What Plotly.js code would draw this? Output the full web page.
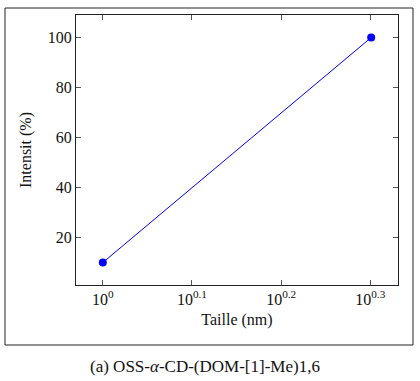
<!DOCTYPE html>
<html><head><meta charset="utf-8">
<script src="https://cdn.plot.ly/plotly-3.0.1.min.js"></script>
</head><body style="margin:0;background:#fff"><div id="c"></div>
<script>
const sizes = [1, 2];
const intensities = [10, 100];
const xTickVals = [1, Math.pow(10,0.1), Math.pow(10,0.2), Math.pow(10,0.3)];
const xTickText = ['10<sup>0</sup>','10<sup>0.1</sup>','10<sup>0.2</sup>','10<sup>0.3</sup>'];
const yTickVals = [20, 40, 60, 80, 100];
const caption = '(a) OSS-<i>α</i>-CD-(DOM-[1]-Me)1,6';

const F = 'Liberation Serif';
const L = 76, R = 22, T = 15, B = 96, W = 420, H = 381;
const pw = W - L - R, ph = H - T - B;
const px = x => (x - L) / pw, py = y => (H - B - y) / ph;
const fnt = s => ({family: F, size: s, color: '#111'});

Plotly.newPlot('c', [{
  x: sizes, y: intensities, type: 'scatter', mode: 'lines+markers',
  line: {color: '#0000ff', width: 1}, marker: {color: '#0000ff', size: 8}
}], {
  width: W, height: H, margin: {l: L, r: R, t: T, b: B},
  paper_bgcolor: '#fff', plot_bgcolor: '#fff', showlegend: false,
  xaxis: {type: 'log', range: [-0.0301, 0.3311], tickvals: xTickVals, ticktext: xTickText,
    ticks: 'inside', ticklen: 5, tickcolor: '#555', showgrid: false, zeroline: false,
    showline: true, linecolor: '#222', linewidth: 1, mirror: 'ticks',
    tickfont: fnt(16),
    title: {text: 'Taille (nm)', font: fnt(16), standoff: 6}},
  yaxis: {range: [1, 109], tickvals: yTickVals,
    ticks: 'inside', ticklen: 5, tickcolor: '#555', showgrid: false, zeroline: false,
    showline: true, linecolor: '#222', linewidth: 1, mirror: 'ticks',
    tickfont: fnt(16),
    title: {text: 'Intensit (%)', font: fnt(16), standoff: 12}},
  shapes: [{type: 'rect', xref: 'paper', yref: 'paper',
    x0: px(5), x1: px(413), y0: py(345), y1: py(8), line: {color: '#222', width: 1}}],
  annotations: [{xref: 'paper', yref: 'paper', x: px(205), y: py(366),
    text: caption, showarrow: false, font: fnt(17), xanchor: 'center', yanchor: 'middle'}]
}, {displayModeBar: false});
</script></body></html>
